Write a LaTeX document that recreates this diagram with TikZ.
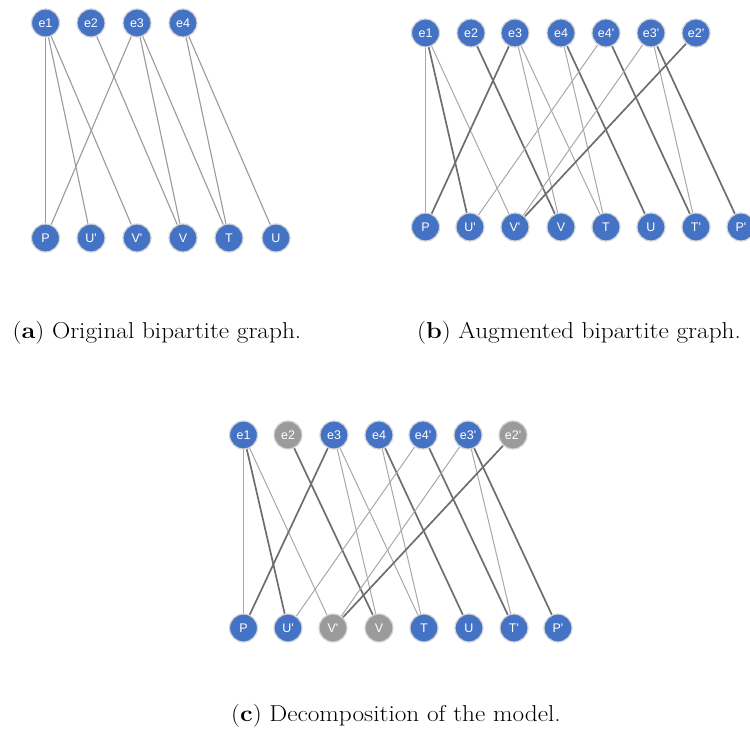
\documentclass[tikz,border=0pt]{standalone}
\usepackage{fontspec}
\newfontfamily\nodefont{Liberation Sans}
\usetikzlibrary{backgrounds}
\definecolor{nodeblue}{HTML}{4472C4}
\definecolor{nodegray}{HTML}{9B9B9B}
\definecolor{halo}{HTML}{D4D4D4}
\definecolor{edgea}{HTML}{9A9A9A}
\definecolor{edgelight}{HTML}{A8A8A8}
\definecolor{edgedark}{HTML}{6E6E6E}
\tikzset{
  vtx/.style={circle, fill=nodeblue, draw=halo, line width=1.2pt, minimum size=28pt, inner sep=0pt,
    text=white, font=\nodefont\fontsize{12.5}{14}\selectfont},
  gvtx/.style={vtx, fill=nodegray},
  ea/.style={draw=edgea, line width=1.1pt},
  el/.style={draw=edgelight, line width=1.0pt},
  ed/.style={draw=edgedark, line width=1.7pt},
  captext/.style={font=\fontsize{23}{27}\selectfont, inner sep=0pt}
}
\newcommand{\pr}{\char"0027}
\newcommand{\capbox}[1]{\scalebox{1.1}[1]{#1}}
\begin{document}
\begin{tikzpicture}[x=1pt,y=-1pt]
\useasboundingbox (0,0) rectangle (750,733);
% ---------- (a) ----------
\node[vtx] (a1) at (45.5,23) {e1};
\node[vtx] (a2) at (91,23) {e2};
\node[vtx] (a3) at (137,23) {e3};
\node[vtx] (a4) at (183,23) {e4};
\node[vtx] (aP) at (45.5,238) {P};
\node[vtx] (aUp) at (91,238) {U\pr};
\node[vtx] (aVp) at (137,238) {V\pr};
\node[vtx] (aV) at (183,238) {V};
\node[vtx] (aT) at (229,238) {T};
\node[vtx] (aU) at (276,238) {U};
\begin{scope}[on background layer]
\draw[ea] (a1) -- (aP);
\draw[ea] (a1) -- (aUp);
\draw[ea] (a1) -- (aVp);
\draw[ea] (a2) -- (aV);
\draw[ea] (a3) -- (aP);
\draw[ea] (a3) -- (aV);
\draw[ea] (a3) -- (aT);
\draw[ea] (a4) -- (aT);
\draw[ea] (a4) -- (aU);
\end{scope}
% ---------- (b) ----------
\node[vtx] (b1) at (425.5,33) {e1};
\node[vtx] (b2) at (471,33) {e2};
\node[vtx] (b3) at (515,33) {e3};
\node[vtx] (b4) at (561,33) {e4};
\node[vtx] (b4p) at (606,33) {e4\pr};
\node[vtx] (b3p) at (651,33) {e3\pr};
\node[vtx] (b2p) at (696,33) {e2\pr};
\node[vtx] (bP) at (425.5,227) {P};
\node[vtx] (bUp) at (470,227) {U\pr};
\node[vtx] (bVp) at (515,227) {V\pr};
\node[vtx] (bV) at (561,227) {V};
\node[vtx] (bT) at (606,227) {T};
\node[vtx] (bU) at (651,227) {U};
\node[vtx] (bTp) at (696,227) {T\pr};
\node[vtx] (bPp) at (741,227) {P\pr};
\begin{scope}[on background layer]
\draw[el] (b1) -- (bP);
\draw[ed] (b1) -- (bUp);
\draw[el] (b1) -- (bVp);
\draw[ed] (b2) -- (bV);
\draw[ed] (b3) -- (bP);
\draw[el] (b3) -- (bV);
\draw[el] (b3) -- (bT);
\draw[el] (b4) -- (bT);
\draw[ed] (b4) -- (bU);
\draw[el] (b4p) -- (bUp);
\draw[ed] (b4p) -- (bTp);
\draw[el] (b3p) -- (bVp);
\draw[el] (b3p) -- (bTp);
\draw[ed] (b3p) -- (bPp);
\draw[ed] (b2p) -- (bVp);
\end{scope}
% ---------- (c) ----------
\node[vtx] (c1) at (243.5,435) {e1};
\node[gvtx] (c2) at (288,435) {e2};
\node[vtx] (c3) at (334,435) {e3};
\node[vtx] (c4) at (379,435) {e4};
\node[vtx] (c4p) at (423,435) {e4\pr};
\node[vtx] (c3p) at (468,435) {e3\pr};
\node[gvtx] (c2p) at (513,435) {e2\pr};
\node[vtx] (cP) at (243.5,628) {P};
\node[vtx] (cUp) at (288,628) {U\pr};
\node[gvtx] (cVp) at (333,628) {V\pr};
\node[gvtx] (cV) at (379,628) {V};
\node[vtx] (cT) at (424,628) {T};
\node[vtx] (cU) at (469,628) {U};
\node[vtx] (cTp) at (514,628) {T\pr};
\node[vtx] (cPp) at (558,628) {P\pr};
\begin{scope}[on background layer]
\draw[el] (c1) -- (cP);
\draw[ed] (c1) -- (cUp);
\draw[el] (c1) -- (cVp);
\draw[ed] (c2) -- (cV);
\draw[ed] (c3) -- (cP);
\draw[el] (c3) -- (cV);
\draw[el] (c3) -- (cT);
\draw[el] (c4) -- (cT);
\draw[ed] (c4) -- (cU);
\draw[el] (c4p) -- (cUp);
\draw[ed] (c4p) -- (cTp);
\draw[el] (c3p) -- (cVp);
\draw[el] (c3p) -- (cTp);
\draw[ed] (c3p) -- (cPp);
\draw[ed] (c2p) -- (cVp);
\end{scope}
% ---------- captions ----------
\node[captext] (capa) at (157,333) {\capbox{(\textbf{a}) Original bipartite graph.}};
\node[captext] (capb) at (579,333) {\capbox{(\textbf{b}) Augmented bipartite graph.}};
\node[captext] (capc) at (396,716) {\capbox{(\textbf{c}) Decomposition of the model.}};
\end{tikzpicture}
\end{document}
